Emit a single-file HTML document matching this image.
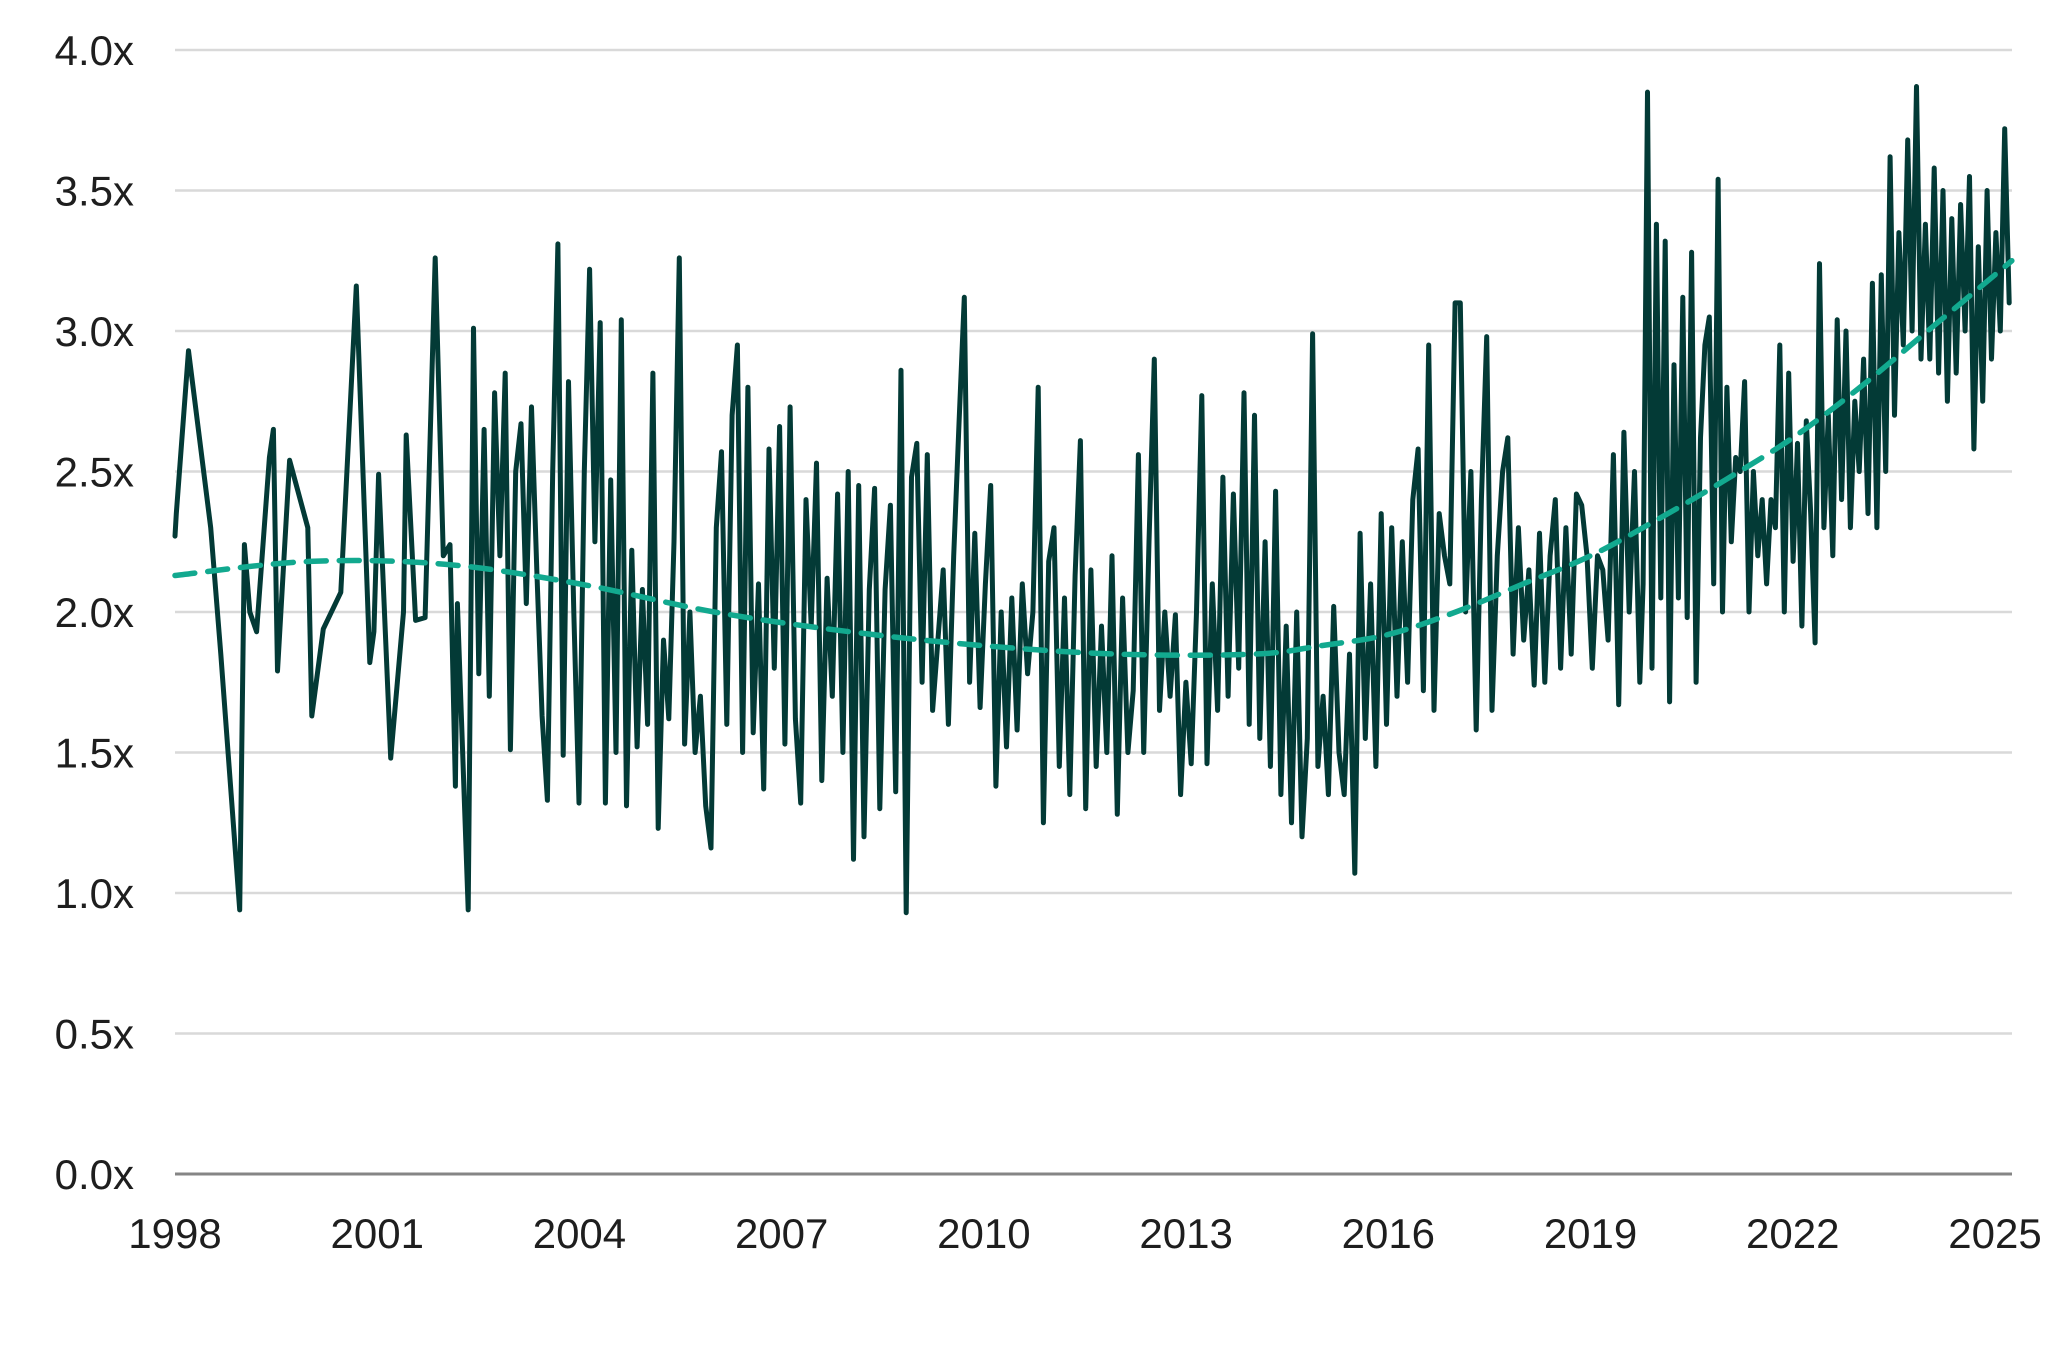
<!DOCTYPE html>
<html><head><meta charset="utf-8">
<style>
html,body{margin:0;padding:0;background:#fff;}
svg{display:block;font-family:"Liberation Sans",sans-serif;}
</style></head>
<body>
<svg id="chart" width="2062" height="1369" viewBox="0 0 2062 1369" xmlns="http://www.w3.org/2000/svg">
<g id="grid"></g>
<g id="yaxis"></g>
<g id="xaxis"></g>
<g id="series"></g>
</svg>
<script>
const yTicks = [0,0.5,1,1.5,2,2.5,3,3.5,4];
const yTickLabels = ["0.0x","0.5x","1.0x","1.5x","2.0x","2.5x","3.0x","3.5x","4.0x"];
const xTicks = [1998,2001,2004,2007,2010,2013,2016,2019,2022,2025];
const xTickLabels = ["1998","2001","2004","2007","2010","2013","2016","2019","2022","2025"];

const earlyDates = [1998.0,1998.02,1998.2,1998.53,1998.68,1998.96,1999.03,1999.11,1999.21,1999.40,1999.46,1999.52,1999.70,1999.97,2000.03,2000.20,2000.46,2000.69,2000.89,2000.95,2001.02,2001.20,2001.39,2001.43,2001.57,2001.71,2001.86,2001.98,2002.08,2002.16,2002.19];
const earlyValues = [2.27,2.35,2.93,2.3,1.85,0.94,2.24,2.0,1.93,2.55,2.65,1.79,2.54,2.3,1.63,1.94,2.07,3.16,1.82,1.93,2.49,1.48,2.0,2.63,1.97,1.98,3.26,2.2,2.24,1.38,2.03];

const segAStart = 2002.35, segAEnd = 2019.73;
const segAValues = [0.94,3.01,1.78,2.65,1.7,2.78,2.2,2.85,1.51,2.5,2.67,2.03,2.73,2.15,1.63,1.33,2.5,3.31,1.49,2.82,2.0,1.32,2.5,3.22,2.25,3.03,1.32,2.47,1.5,3.04,1.31,2.22,1.52,2.08,1.6,2.85,1.23,1.9,1.62,2.25,3.26,1.53,2.0,1.5,1.7,1.31,1.16,2.3,2.57,1.6,2.7,2.95,1.5,2.8,1.57,2.1,1.37,2.58,1.8,2.66,1.53,2.73,1.62,1.32,2.4,1.95,2.53,1.4,2.12,1.7,2.42,1.5,2.5,1.12,2.45,1.2,2.08,2.44,1.3,2.08,2.38,1.36,2.86,0.93,2.48,2.6,1.75,2.56,1.65,1.9,2.15,1.6,2.2,2.67,3.12,1.75,2.28,1.66,2.1,2.45,1.38,2.0,1.52,2.05,1.58,2.1,1.78,2.0,2.8,1.25,2.18,2.3,1.45,2.05,1.35,2.13,2.61,1.3,2.15,1.45,1.95,1.5,2.2,1.28,2.05,1.5,1.72,2.56,1.5,2.25,2.9,1.65,2.0,1.7,1.99,1.35,1.75,1.46,2.0,2.77,1.46,2.1,1.65,2.48,1.7,2.42,1.8,2.78,1.6,2.7,1.55,2.25,1.45,2.43,1.35,1.95,1.25,2.0,1.2,1.55,2.99,1.45,1.7,1.35,2.02,1.5,1.35,1.85,1.07,2.28,1.55,2.1,1.45,2.35,1.6,2.3,1.7,2.25,1.75,2.4,2.58,1.72,2.95,1.65,2.35,2.2,2.1,3.1,3.1,2.0,2.5,1.58,2.4,2.98,1.65,2.2,2.5,2.62,1.85,2.3,1.9,2.15,1.74,2.28,1.75,2.2,2.4,1.8,2.3,1.85,2.42,2.38,2.2,1.8,2.2,2.15,1.9,2.56,1.67,2.64,2.0,2.5,1.75];

const segBStart = 2019.78, segBEnd = 2025.21;
const segBValues = [2.1,3.85,1.8,3.38,2.05,3.32,1.68,2.88,2.05,3.12,1.98,3.28,1.75,2.62,2.95,3.05,2.1,3.54,2.0,2.8,2.25,2.55,2.5,2.82,2.0,2.5,2.2,2.4,2.1,2.4,2.3,2.95,2.0,2.85,2.18,2.6,1.95,2.68,2.35,1.89,3.24,2.3,2.7,2.2,3.04,2.4,3.0,2.3,2.75,2.5,2.9,2.35,3.17,2.3,3.2,2.5,3.62,2.7,3.35,2.95,3.68,3.0,3.87,2.9,3.38,2.9,3.58,2.85,3.5,2.75,3.4,2.85,3.45,3.0,3.55,2.58,3.3,2.75,3.5,2.9,3.35,3.0,3.72,3.1];

const trendDates = [1998,2000,2002,2004,2006,2008,2010,2012,2014,2015,2016,2017,2018,2019,2020,2021,2022,2023,2024,2025.25];
const trendValues = [2.13,2.18,2.17,2.1,2.0,1.93,1.88,1.85,1.85,1.88,1.92,2.0,2.1,2.2,2.33,2.47,2.62,2.8,3.0,3.25];

const X0=175, X1=1995, XL=175, XR=2012, Y0=1174, YPER=281;
function xs(t){return X0+(t-1998)*(X1-X0)/27;}
function ys(v){return Y0-v*YPER;}
const NS="http://www.w3.org/2000/svg";
function mk(tag,parent,attrs){const e=document.createElementNS(NS,tag);for(const k in attrs)e.setAttribute(k,attrs[k]);parent.appendChild(e);return e;}

const grid=document.getElementById('grid'), yax=document.getElementById('yaxis'), xax=document.getElementById('xaxis'), ser=document.getElementById('series');
yTicks.forEach((v,i)=>{
  const l=mk('line',grid,{x1:XL,x2:XR,y1:ys(v),y2:ys(v),stroke:v===0?'#858585':'#d9d9d9','stroke-width':v===0?3:2.5});
  
  
  const t=mk('text',yax,{x:134,y:ys(v)+15,'text-anchor':'end','font-size':42,fill:'#1e1e1e'});
  t.textContent=yTickLabels[i];
  
  
});
xTicks.forEach((yr,i)=>{
  const t=mk('text',xax,{x:xs(yr),y:1248,'text-anchor':'middle','font-size':42,fill:'#1e1e1e'});
  t.textContent=xTickLabels[i];
  
  
});

const pts=[];
earlyDates.forEach((d,i)=>pts.push([xs(d),ys(earlyValues[i])]));
segAValues.forEach((v,i)=>pts.push([xs(segAStart+i*(segAEnd-segAStart)/(segAValues.length-1)),ys(v)]));
segBValues.forEach((v,i)=>pts.push([xs(segBStart+i*(segBEnd-segBStart)/(segBValues.length-1)),ys(v)]));
const line=mk('polyline',ser,{points:pts.map(p=>p[0].toFixed(1)+','+p[1].toFixed(1)).join(' '),fill:'none',stroke:'#033a36','stroke-width':5,'stroke-linejoin':'round','stroke-linecap':'round'});



// smooth trend via Catmull-Rom
const tp=trendDates.map((d,i)=>[xs(d),ys(trendValues[i])]);
let dstr='M'+tp[0][0]+','+tp[0][1];
for(let i=0;i<tp.length-1;i++){
  const p0=tp[Math.max(0,i-1)],p1=tp[i],p2=tp[i+1],p3=tp[Math.min(tp.length-1,i+2)];
  const c1=[p1[0]+(p2[0]-p0[0])/6,p1[1]+(p2[1]-p0[1])/6], c2=[p2[0]-(p3[0]-p1[0])/6,p2[1]-(p3[1]-p1[1])/6];
  dstr+=' C'+c1.join(',')+' '+c2.join(',')+' '+p2.join(',');
}
const trend=mk('path',ser,{d:dstr,fill:'none',stroke:'#12a98f','stroke-width':5.5,'stroke-dasharray':'20 13','stroke-linecap':'round'});


</script>
</body></html>
